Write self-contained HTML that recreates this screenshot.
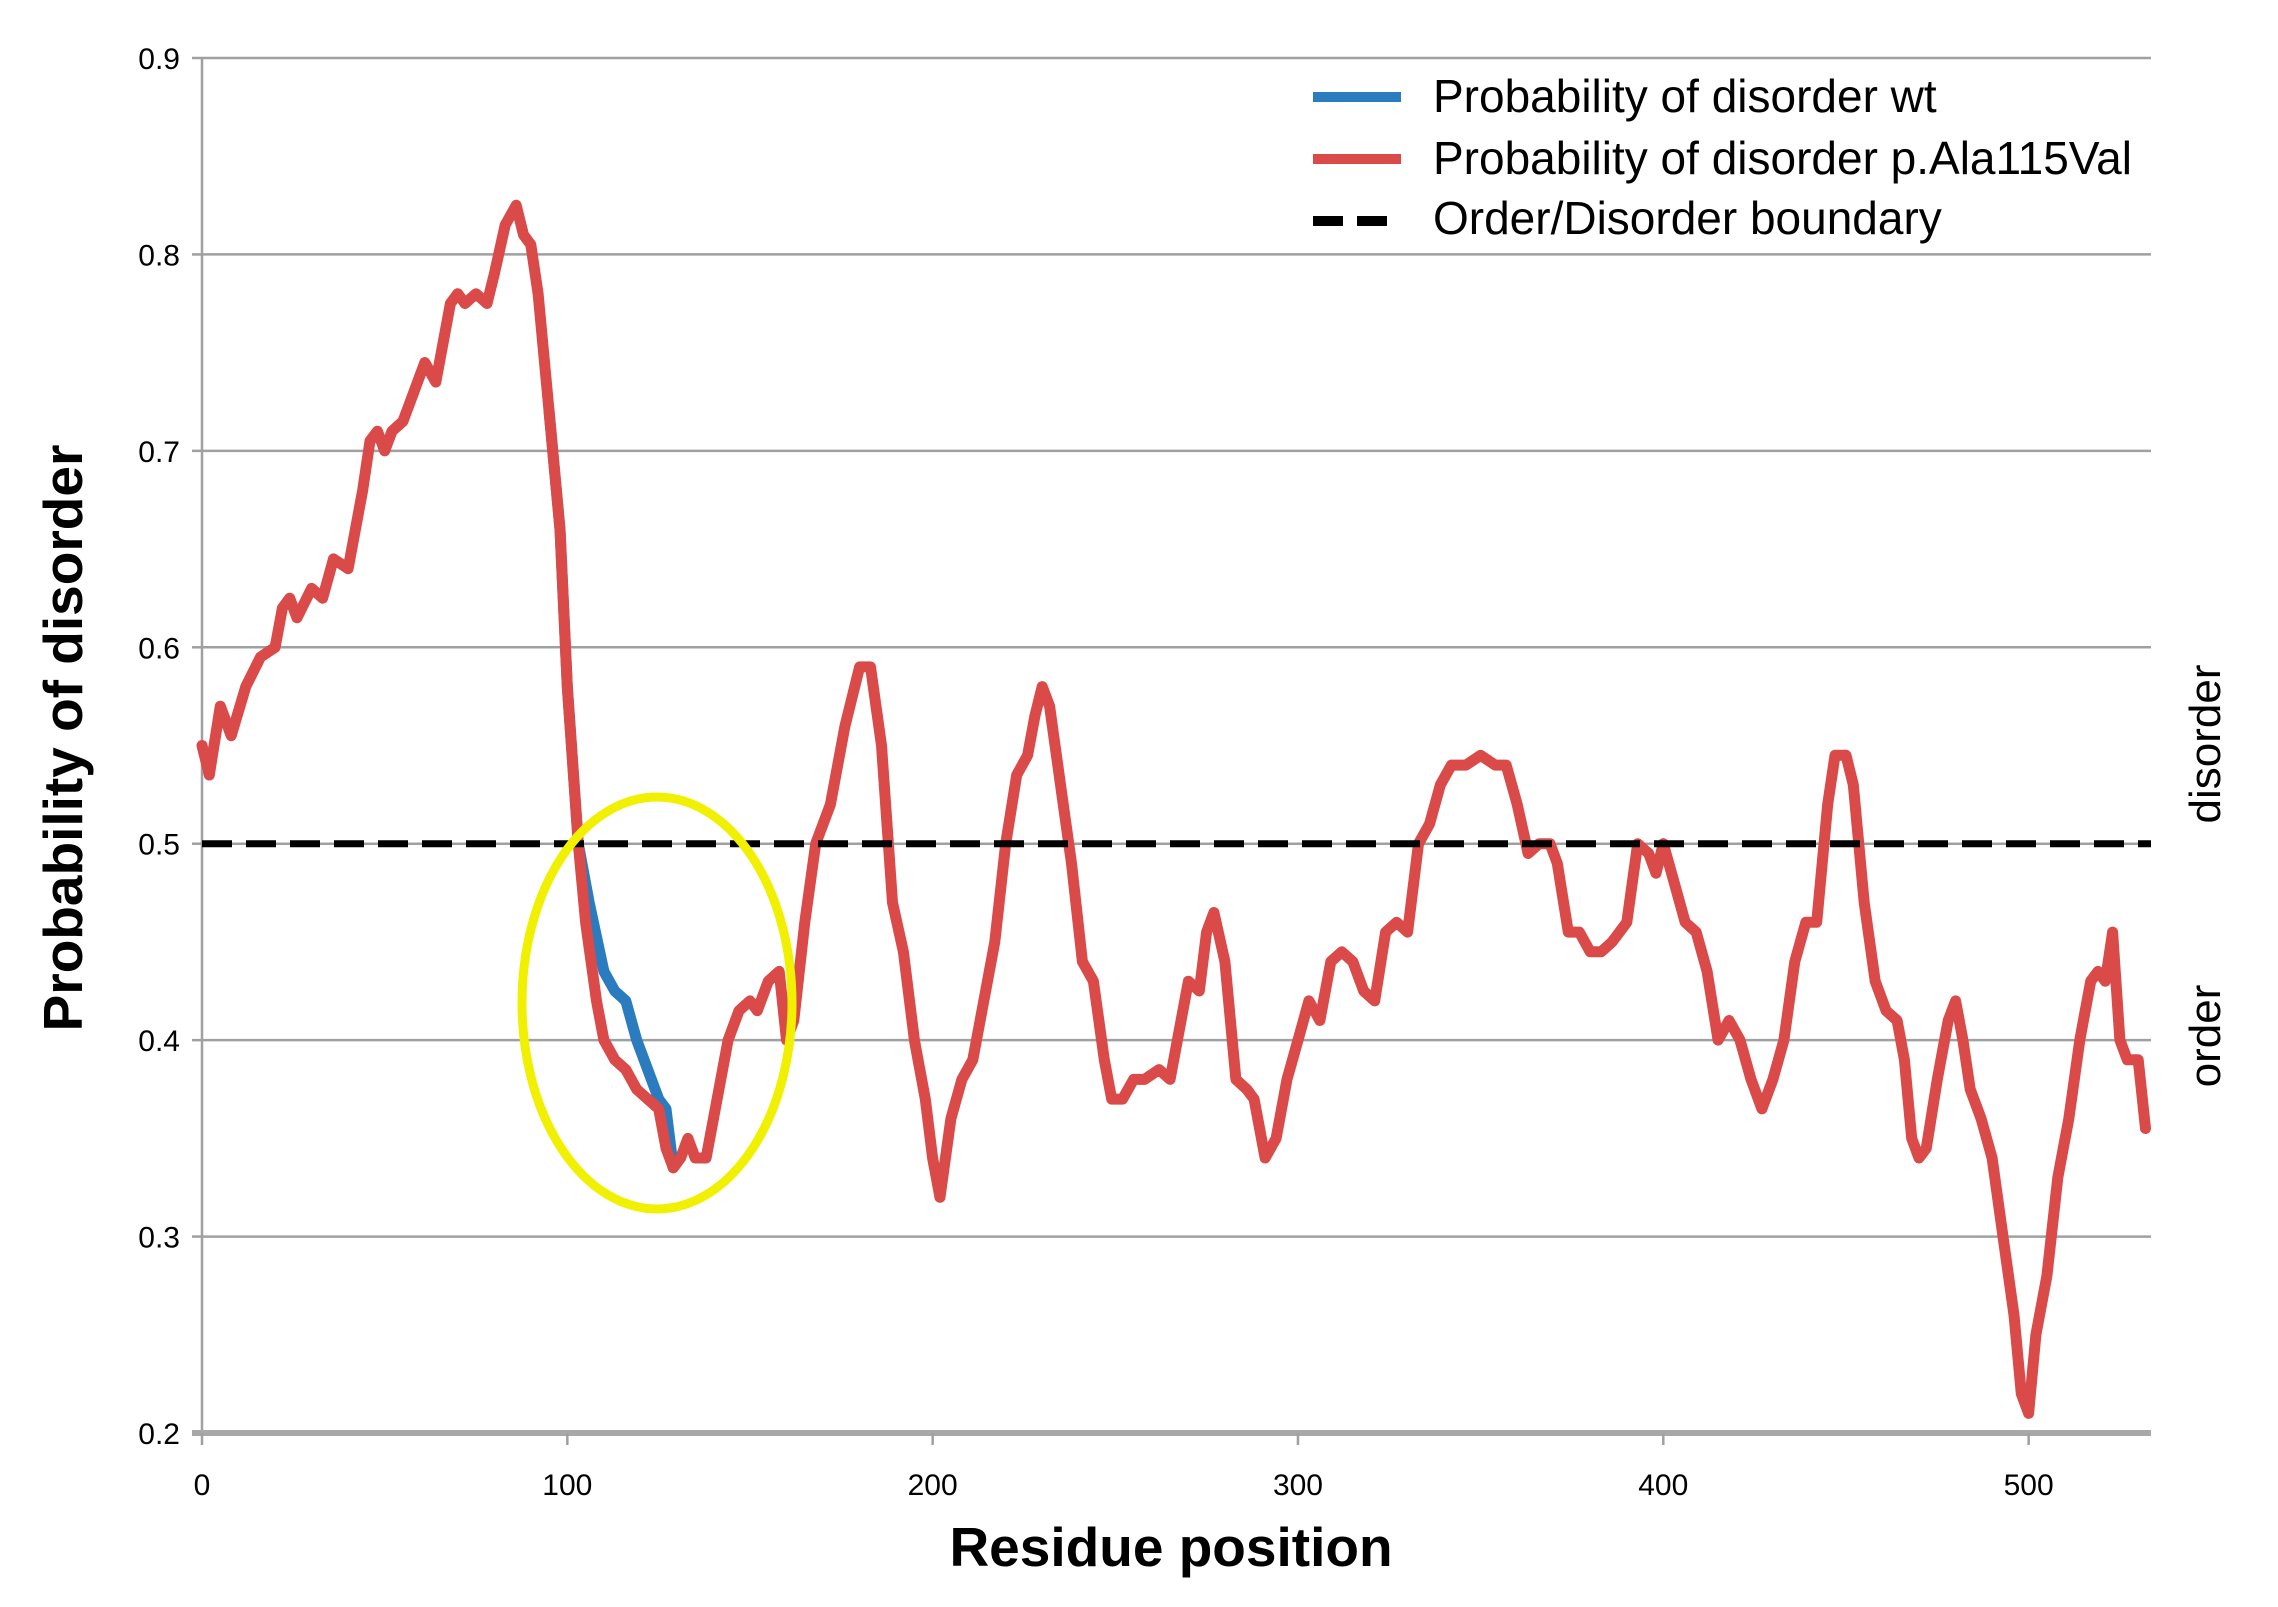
<!DOCTYPE html>
<html><head><meta charset="utf-8">
<style>
html,body{margin:0;padding:0;background:#fff;}
svg{display:block;font-family:"Liberation Sans",sans-serif;}
</style></head>
<body>
<svg id="chart" width="2278" height="1607" viewBox="0 0 2278 1607">
<g id="grid"></g>
<g id="axes"></g>
<g id="series"></g>
<ellipse cx="657" cy="1003" rx="135" ry="206" fill="none" stroke="#f0f000" stroke-width="9"/>
<text x="0" y="0" transform="translate(82,738) rotate(-90)" text-anchor="middle" font-size="55" font-weight="bold">Probability of disorder</text>
<text x="1171" y="1566" text-anchor="middle" font-size="55" font-weight="bold">Residue position</text>
<text transform="translate(2220,744) rotate(-90)" text-anchor="middle" font-size="44">disorder</text>
<text transform="translate(2220,1036) rotate(-90)" text-anchor="middle" font-size="44">order</text>
<g>
<g><line x1="1313" y1="97" x2="1401" y2="97" stroke="#2b7bbf" stroke-width="10"/><text x="1433" y="112" font-size="46">Probability of disorder wt</text></g>
<g><line x1="1313" y1="159" x2="1401" y2="159" stroke="#d94a48" stroke-width="10"/><text x="1433" y="174" font-size="46">Probability of disorder p.Ala115Val</text></g>
<g><line x1="1313" y1="221" x2="1401" y2="221" stroke="#000" stroke-width="10" stroke-dasharray="30,14"/><text x="1433" y="234" font-size="46">Order/Disorder boundary</text></g>
</g>
</svg>
<script>
const xTicks=[0,100,200,300,400,500];
const yTicks=[0.2,0.3,0.4,0.5,0.6,0.7,0.8,0.9];
const mutX=[0,2,5,8,12,16,20,22,24,26,30,33,36,40,44,46,48,50,52,55,58,61,64,66,68,70,72,75,78,80,83,86,88,90,92,95,98,100,103,105,108,110,113,116,119,122,125,127,129,131,133,135,138,141,144,147,150,152,155,158,160,162,165,168,172,176,180,183,186,189,192,195,198,200,202,205,208,211,214,217,220,223,226,228,230,232,235,238,241,244,247,249,252,255,258,262,265,267,270,273,275,277,280,283,286,288,291,294,297,300,303,306,309,312,315,318,321,324,327,330,333,336,339,342,346,350,354,357,360,363,366,369,371,374,377,380,383,386,390,393,396,398,400,403,406,409,412,415,418,421,424,427,430,433,436,439,442,445,447,450,452,455,458,461,464,466,468,470,472,475,478,480,482,484,487,490,493,496,498,500,502,505,508,511,514,517,519,521,523,525,527,530,532];
const mutY=[0.55,0.535,0.57,0.555,0.58,0.595,0.60,0.62,0.625,0.615,0.63,0.625,0.645,0.64,0.68,0.705,0.71,0.70,0.71,0.715,0.73,0.745,0.735,0.755,0.775,0.78,0.775,0.78,0.775,0.79,0.815,0.825,0.81,0.805,0.78,0.72,0.66,0.58,0.50,0.46,0.42,0.40,0.39,0.385,0.375,0.37,0.365,0.345,0.335,0.34,0.35,0.34,0.34,0.37,0.40,0.415,0.42,0.415,0.43,0.435,0.40,0.41,0.46,0.50,0.52,0.56,0.59,0.59,0.55,0.47,0.445,0.40,0.37,0.34,0.32,0.36,0.38,0.39,0.42,0.45,0.50,0.535,0.545,0.565,0.58,0.57,0.53,0.49,0.44,0.43,0.39,0.37,0.37,0.38,0.38,0.385,0.38,0.40,0.43,0.425,0.455,0.465,0.44,0.38,0.375,0.37,0.34,0.35,0.38,0.40,0.42,0.41,0.44,0.445,0.44,0.425,0.42,0.455,0.46,0.455,0.50,0.51,0.53,0.54,0.54,0.545,0.54,0.54,0.52,0.495,0.50,0.50,0.49,0.455,0.455,0.445,0.445,0.45,0.46,0.50,0.495,0.485,0.50,0.48,0.46,0.455,0.435,0.40,0.41,0.40,0.38,0.365,0.38,0.40,0.44,0.46,0.46,0.52,0.545,0.545,0.53,0.47,0.43,0.415,0.41,0.39,0.35,0.34,0.345,0.38,0.41,0.42,0.40,0.375,0.36,0.34,0.30,0.26,0.22,0.21,0.25,0.28,0.33,0.36,0.40,0.43,0.435,0.43,0.455,0.40,0.39,0.39,0.355];
const wtX=[95,98,100,103,106,110,113,116,119,122,125,127,129];
const wtY=[0.72,0.66,0.58,0.50,0.47,0.435,0.425,0.42,0.40,0.385,0.37,0.365,0.335];
const boundary=[0.5];
const xMin=0,xMax=533.5,yMin=0.2,yMax=0.9;
const L=202,R=2151,T=58,B=1433;
const sx=v=>L+(v-xMin)/(xMax-xMin)*(R-L);
const sy=v=>B-(v-yMin)/(yMax-yMin)*(B-T);
const NS="http://www.w3.org/2000/svg";
function mk(tag,attrs,parent){const e=document.createElementNS(NS,tag);for(const k in attrs)e.setAttribute(k,attrs[k]);parent.appendChild(e);return e;}
const grid=document.getElementById('grid'),axes=document.getElementById('axes'),series=document.getElementById('series');
yTicks.forEach(t=>{
  const y=sy(t);
  if(t>yMin){const g=mk('line',{x1:L,x2:R,y1:y,y2:y,stroke:'#a0a0a0','stroke-width':2.5},grid);
  
  }
  const tl=mk('line',{x1:L-10,x2:L,y1:y,y2:y,stroke:'#a0a0a0','stroke-width':2.5},axes);
  
  
  const tx=mk('text',{x:L-22,y:y+11,'text-anchor':'end','font-size':30},axes);
  tx.textContent=t.toFixed(1);
  
  
});
const ya=mk('line',{x1:L,x2:L,y1:T,y2:B,stroke:'#a0a0a0','stroke-width':2.5},axes);


const xa=mk('line',{x1:L-10,x2:R,y1:B,y2:B,stroke:'#a8a8a8','stroke-width':6},axes);


xTicks.forEach(t=>{
  const x=sx(t);
  const tl=mk('line',{x1:x,x2:x,y1:B,y2:B+12,stroke:'#a0a0a0','stroke-width':2.5},axes);
  
  
  const tx=mk('text',{x:x,y:B+62,'text-anchor':'middle','font-size':30},axes);
  tx.textContent=t;
  
  
});
const pts=(xs,ys)=>xs.map((x,i)=>sx(x).toFixed(1)+','+sy(ys[i]).toFixed(1)).join(' ');
const wt=mk('polyline',{points:pts(wtX,wtY),fill:'none',stroke:'#2b7bbf','stroke-width':11,'stroke-linejoin':'round','stroke-linecap':'round'},series);


const mu=mk('polyline',{points:pts(mutX,mutY),fill:'none',stroke:'#d94a48','stroke-width':11,'stroke-linejoin':'round','stroke-linecap':'round'},series);


boundary.forEach(b=>{
  const d=mk('line',{x1:L,x2:R,y1:sy(b),y2:sy(b),stroke:'#000','stroke-width':7,'stroke-dasharray':'30,14'},series);
  
  
});
</script>
</body></html>
